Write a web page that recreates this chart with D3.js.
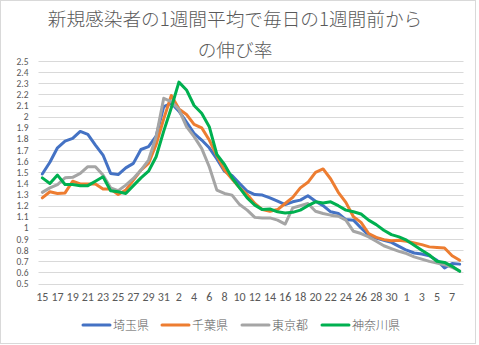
<!DOCTYPE html>
<html>
<head>
<meta charset="utf-8">
<script src="https://cdn.jsdelivr.net/npm/d3@7"></script>
<style>
  html, body { margin: 0; padding: 0; background: #fff; }
  svg { display: block; }
</style>
</head>
<body>
<svg id="chart" width="479" height="345"></svg>
<script>
// Day-of-month for each daily point (Jul 15 – Sep 8)
const days = [15,16,17,18,19,20,21,22,23,24,25,26,27,28,29,30,31,
  1,2,3,4,5,6,7,8,9,10,11,12,13,14,15,16,17,18,19,20,21,22,23,24,25,26,27,28,29,30,31,
  1,2,3,4,5,6,7,8];

// 7-day average of new cases, ratio vs. one week earlier
const saitama = [1.485,1.59,1.72,1.78,1.805,1.867,1.84,1.745,1.655,1.49,
  1.48,1.54,1.58,1.705,1.73,1.826,2.09,2.12,2.05,1.95,
  1.85,1.79,1.72,1.62,1.51,1.47,1.40,1.33,1.30,1.295,
  1.27,1.24,1.21,1.235,1.25,1.29,1.24,1.20,1.145,1.13,
  1.075,1.07,1.00,0.935,0.91,0.89,0.87,0.835,0.80,0.775,
  0.765,0.75,0.71,0.64,0.68,0.675];
const chiba = [1.27,1.325,1.31,1.315,1.42,1.395,1.395,1.395,1.35,1.35,
  1.30,1.34,1.43,1.52,1.58,1.75,1.98,2.19,2.07,2.02,
  1.93,1.90,1.79,1.65,1.52,1.44,1.36,1.30,1.22,1.165,
  1.15,1.165,1.22,1.275,1.36,1.41,1.50,1.53,1.44,1.32,
  1.23,1.10,1.05,0.95,0.915,0.895,0.885,0.89,0.88,0.865,
  0.85,0.83,0.825,0.82,0.75,0.71];
const tokyo = [1.32,1.36,1.39,1.45,1.455,1.49,1.55,1.55,1.475,1.36,
  1.335,1.385,1.445,1.52,1.61,1.82,2.165,2.135,2.065,1.91,
  1.82,1.715,1.55,1.34,1.31,1.295,1.21,1.16,1.095,1.09,
  1.09,1.07,1.035,1.18,1.20,1.22,1.15,1.13,1.115,1.105,
  1.07,0.97,0.95,0.92,0.88,0.84,0.815,0.79,0.77,0.74,
  0.72,0.70,0.685,0.67,0.645,0.615];
const kanagawa = [1.45,1.40,1.475,1.39,1.39,1.38,1.38,1.42,1.46,1.335,
  1.325,1.31,1.38,1.45,1.51,1.64,1.87,2.08,2.31,2.24,
  2.10,2.03,1.91,1.66,1.57,1.45,1.36,1.27,1.205,1.165,
  1.17,1.145,1.135,1.14,1.16,1.20,1.235,1.225,1.235,1.20,
  1.16,1.145,1.125,1.07,1.03,0.98,0.94,0.92,0.89,0.845,
  0.80,0.757,0.70,0.69,0.655,0.61];

const seriesNames = ["埼玉県", "千葉県", "東京都", "神奈川県"];
const seriesColors = ["#4472C4", "#ED7D31", "#A5A5A5", "#00B050"];
const yTicks = [0.5,0.6,0.7,0.8,0.9,1,1.1,1.2,1.3,1.4,1.5,1.6,1.7,1.8,1.9,2,2.1,2.2,2.3,2.4,2.5];
const titleLines = ["新規感染者の1週間平均で毎日の1週間前から", "の伸び率"];

const series = [saitama, chiba, tokyo, kanagawa].map((values, k) => ({
  name: seriesNames[k], color: seriesColors[k], values
}));

const svg = d3.select("#chart");
const plot = { left: 38.5, right: 463.5, top: 61, bottom: 283.6 };
const textColor = "#595959";
const numFont = "Carlito, Calibri, 'Liberation Sans Narrow', 'Liberation Sans', sans-serif";
const cjkFont = "'Noto Sans CJK JP', 'Noto Sans', sans-serif";

// chart frame
svg.append("rect")
  .attr("x", 0.5).attr("y", 0.5)
  .attr("width", 475).attr("height", 343)
  .attr("fill", "#fff").attr("stroke", "#d9d9d9").attr("stroke-width", 1);

const idx = d3.range(days.length);
const x = d3.scaleBand().domain(idx).range([plot.left, plot.right]).padding(0);
const cx = i => x(i) + x.bandwidth() / 2;
const y = d3.scaleLinear().domain([0.5, 2.5]).range([plot.bottom, plot.top]);

// horizontal gridlines
svg.append("g")
  .selectAll("line")
  .data(yTicks)
  .join("line")
  .attr("x1", plot.left).attr("x2", plot.right)
  .attr("y1", d => Math.round(y(d)) + 0.5).attr("y2", d => Math.round(y(d)) + 0.5)
  .attr("stroke", "#d9d9d9").attr("stroke-width", 1);

// y axis labels
const yAxis = d3.axisLeft(y)
  .tickValues(yTicks)
  .tickSize(0)
  .tickPadding(10)
  .tickFormat(d => String(+d.toFixed(1)));
const gy = svg.append("g").attr("transform", `translate(${plot.left},0)`).call(yAxis);
gy.select(".domain").remove();
gy.selectAll("text")
  .attr("fill", textColor)
  .style("font-family", numFont)
  .style("font-size", "9.5px");

// x axis labels: every second day
const xAxis = d3.axisBottom(x)
  .tickValues(idx.filter(i => i % 2 === 0))
  .tickSize(0)
  .tickPadding(9)
  .tickFormat(i => String(days[i]));
const gx = svg.append("g").attr("transform", `translate(0,${plot.bottom})`).call(xAxis);
gx.select(".domain").remove();
gx.selectAll("text")
  .attr("fill", textColor)
  .style("font-family", numFont)
  .style("font-size", "12px");

// series lines
const line = d3.line()
  .x((d, i) => cx(i))
  .y(d => y(d));

svg.append("g")
  .selectAll("path")
  .data(series)
  .join("path")
  .attr("d", d => line(d.values))
  .attr("fill", "none")
  .attr("stroke", d => d.color)
  .attr("stroke-width", 3)
  .attr("stroke-linejoin", "round")
  .attr("stroke-linecap", "round");

// title
svg.append("g")
  .selectAll("text")
  .data(titleLines)
  .join("text")
  .attr("x", 235)
  .attr("y", (d, i) => 26 + i * 31)
  .attr("text-anchor", "middle")
  .attr("fill", textColor)
  .style("font-family", cjkFont)
  .style("font-weight", 300)
  .style("font-size", "18.67px")
  .text(d => d);

// legend
const legendX = [83, 162, 242, 322];
const legend = svg.append("g")
  .selectAll("g")
  .data(series)
  .join("g")
  .attr("transform", (d, i) => `translate(${legendX[i]},325)`);
legend.append("line")
  .attr("x1", 0).attr("x2", 27)
  .attr("y1", 0).attr("y2", 0)
  .attr("stroke", d => d.color)
  .attr("stroke-width", 3)
  .attr("stroke-linecap", "round");
legend.append("text")
  .attr("x", 30).attr("y", 4.5)
  .attr("fill", textColor)
  .style("font-family", cjkFont)
  .style("font-weight", 300)
  .style("font-size", "12px")
  .text(d => d.name);
</script>
</body>
</html>
